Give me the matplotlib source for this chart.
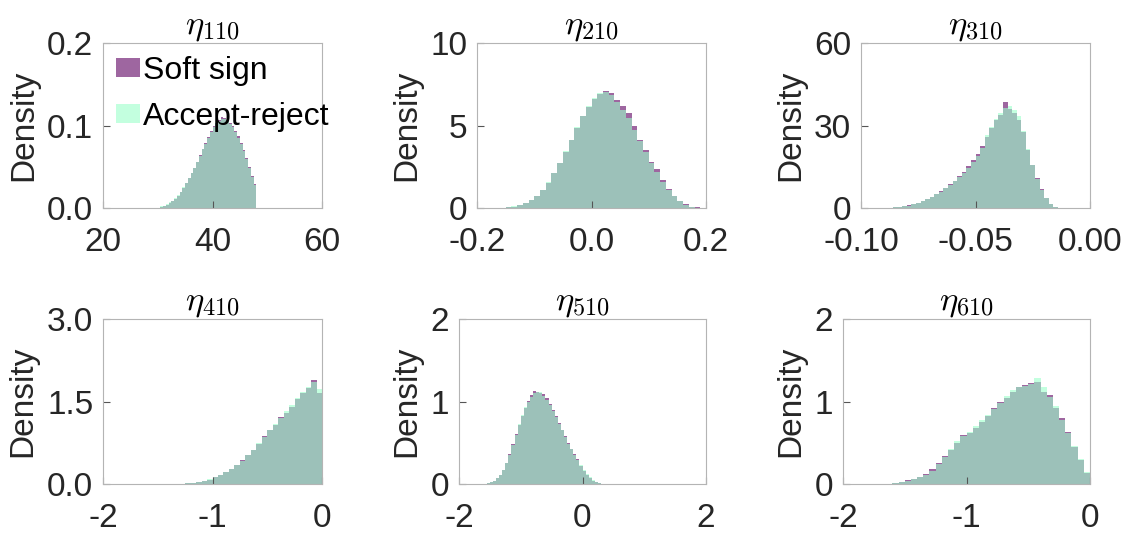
import numpy as np
import matplotlib
matplotlib.use("Agg")
import matplotlib.pyplot as plt

plt.rcParams['font.family'] = ['Liberation Sans', 'DejaVu Sans']
plt.rcParams['mathtext.fontset'] = 'cm'
plt.rcParams['axes.unicode_minus'] = False

# ---- data (densities per bin) ----
titles = [r'$\eta_{110}$', r'$\eta_{210}$', r'$\eta_{310}$',
          r'$\eta_{410}$', r'$\eta_{510}$', r'$\eta_{610}$']

# panel 1
start1, width1 = 30.5, 0.5
accept1 = [0.002, 0.003, 0.005, 0.007, 0.009, 0.012, 0.016, 0.020, 0.025, 0.030,
           0.036, 0.042, 0.049, 0.056, 0.063, 0.071, 0.078, 0.085, 0.092, 0.098,
           0.103, 0.106, 0.108, 0.108, 0.105, 0.102, 0.098, 0.092, 0.085, 0.078,
           0.069, 0.060, 0.049, 0.038, 0.028]
soft1 = [0.001, 0.002, 0.004, 0.006, 0.008, 0.011, 0.015, 0.019, 0.024, 0.030,
         0.036, 0.043, 0.049, 0.056, 0.064, 0.071, 0.079, 0.086, 0.093, 0.099,
         0.103, 0.107, 0.110, 0.109, 0.106, 0.103, 0.099, 0.093, 0.087, 0.079,
         0.070, 0.061, 0.050, 0.039, 0.029]

# panel 2
start2, width2 = -0.16, 0.01
accept2 = [0.02, 0.05, 0.10, 0.18, 0.30, 0.48, 0.75, 1.10, 1.55, 2.10,
           2.75, 3.45, 4.15, 4.90, 5.60, 6.20, 6.65, 6.95, 7.05, 6.85,
           6.40, 5.95, 5.45, 4.75, 4.05, 3.40, 2.75, 2.20, 1.60, 1.10,
           0.70, 0.40, 0.20, 0.08, 0.03]
soft2 = [0.03, 0.05, 0.09, 0.18, 0.32, 0.47, 0.73, 1.08, 1.52, 2.12,
         2.70, 3.40, 4.10, 4.85, 5.55, 6.15, 6.62, 6.93, 7.10, 7.00,
         6.55, 6.20, 5.75, 4.95, 4.15, 3.50, 2.80, 2.35, 1.70, 1.15,
         0.75, 0.42, 0.22, 0.09, 0.04]

# panel 3
start3, width3 = -0.088, 0.002
accept3 = [0.1, 0.2, 0.4, 0.6, 0.9, 1.3, 1.8, 2.4, 3.1, 4.0,
           5.0, 6.0, 7.2, 8.4, 9.7, 11.2, 12.8, 14.6, 16.6, 19.0,
           22.0, 26.5, 29.5, 32.5, 34.5, 36.5, 37.0, 35.5, 33.5, 28.0,
           21.5, 15.5, 10.5, 6.5, 3.5, 1.6, 0.5]
soft3 = [0.1, 0.3, 0.4, 0.7, 1.0, 1.3, 1.9, 2.5, 3.2, 4.1,
         5.1, 6.2, 7.4, 8.6, 10.0, 11.5, 13.2, 15.1, 17.4, 19.8,
         22.5, 26.0, 29.0, 32.0, 34.0, 38.5, 36.0, 34.5, 32.0, 27.5,
         21.0, 15.5, 10.8, 6.8, 3.6, 1.5, 0.5]

# panel 4
start4, width4 = -1.25, 0.05
accept4 = [0.01, 0.02, 0.04, 0.06, 0.09, 0.12, 0.16, 0.21, 0.27, 0.34,
           0.42, 0.52, 0.62, 0.74, 0.86, 0.98, 1.09, 1.20, 1.32, 1.44,
           1.57, 1.68, 1.76, 1.86, 1.72]
soft4 = [0.01, 0.02, 0.03, 0.06, 0.08, 0.12, 0.17, 0.22, 0.28, 0.35,
         0.43, 0.52, 0.61, 0.73, 0.87, 0.99, 1.08, 1.22, 1.30, 1.40,
         1.55, 1.66, 1.74, 1.90, 1.66]

# panel 5
start5, width5 = -1.55, 0.05
accept5 = [0.01, 0.02, 0.04, 0.07, 0.11, 0.17, 0.25, 0.35, 0.47, 0.60,
           0.73, 0.84, 0.93, 1.00, 1.06, 1.10, 1.12, 1.11, 1.07, 1.02,
           0.96, 0.89, 0.81, 0.73, 0.65, 0.57, 0.49, 0.42, 0.35, 0.29,
           0.23, 0.17, 0.12, 0.08, 0.05, 0.02, 0.01]
soft5 = [0.01, 0.02, 0.04, 0.07, 0.11, 0.17, 0.26, 0.36, 0.48, 0.61,
         0.72, 0.83, 0.92, 1.01, 1.08, 1.13, 1.11, 1.10, 1.09, 1.04,
         0.97, 0.90, 0.82, 0.74, 0.66, 0.58, 0.50, 0.43, 0.36, 0.30,
         0.22, 0.16, 0.11, 0.07, 0.04, 0.02, 0.01]

# panel 6
start6, width6 = -1.6, 0.05
accept6 = [0.01, 0.02, 0.04, 0.06, 0.08, 0.11, 0.16, 0.24, 0.33, 0.43,
           0.52, 0.58, 0.63, 0.70, 0.77, 0.84, 0.91, 0.98, 1.07, 1.14,
           1.18, 1.19, 1.21, 1.28, 1.18, 1.05, 0.94, 0.78, 0.62, 0.46,
           0.30, 0.14]
soft6 = [0.01, 0.02, 0.05, 0.06, 0.09, 0.12, 0.18, 0.26, 0.34, 0.41,
         0.50, 0.59, 0.62, 0.68, 0.75, 0.83, 0.92, 1.00, 1.04, 1.12,
         1.17, 1.20, 1.22, 1.24, 1.12, 1.08, 0.92, 0.80, 0.63, 0.45,
         0.29, 0.13]

xlims = [(20, 60), (-0.2, 0.2), (-0.1, 0.0), (-2, 0), (-2, 2), (-2, 0)]
xticks = [[20, 40, 60], [-0.2, 0.0, 0.2], [-0.1, -0.05, 0.0],
          [-2, -1, 0], [-2, 0, 2], [-2, -1, 0]]
xticklabels = [['20', '40', '60'], ['-0.2', '0.0', '0.2'], ['-0.10', '-0.05', '0.00'],
               ['-2', '-1', '0'], ['-2', '0', '2'], ['-2', '-1', '0']]
ylims = [(0, 0.2), (0, 10), (0, 60), (0, 3), (0, 2), (0, 2)]
yticks = [[0, 0.1, 0.2], [0, 5, 10], [0, 30, 60], [0, 1.5, 3], [0, 1, 2], [0, 1, 2]]
yticklabels = [['0.0', '0.1', '0.2'], ['0', '5', '10'], ['0', '30', '60'],
               ['0.0', '1.5', '3.0'], ['0', '1', '2'], ['0', '1', '2']]

starts = [start1, start2, start3, start4, start5, start6]
widths = [width1, width2, width3, width4, width5, width6]
accepts = [accept1, accept2, accept3, accept4, accept5, accept6]
softs = [soft1, soft2, soft3, soft4, soft5, soft6]

soft_color = (93/255, 0/255, 97/255)
accept_color = (155/255, 1.0, 203/255)

W, H = 1128, 533
fig = plt.figure(figsize=(W/100, H/100), dpi=100)

# axes boxes in pixels: left, right, top, bottom
boxes = [(103, 322, 43, 208), (477, 706, 43, 208), (861, 1090, 43, 208),
         (103, 322, 319, 484), (459, 706, 319, 484), (843, 1090, 319, 484)]

for i in range(6):
    l, r, t, b = boxes[i]
    ax = fig.add_axes([l/W, 1 - b/H, (r - l)/W, (b - t)/H])
    edges = starts[i] + widths[i]*np.arange(len(accepts[i]) + 1)
    ax.stairs(softs[i], edges, fill=True, color=soft_color, alpha=0.6,
              linewidth=0, label='Soft sign')
    ax.stairs(accepts[i], edges, fill=True, color=accept_color, alpha=0.6,
              linewidth=0, label='Accept-reject')
    ax.set_xlim(*xlims[i])
    ax.set_ylim(*ylims[i])
    ax.set_xticks(xticks[i])
    ax.set_xticklabels(xticklabels[i])
    ax.set_yticks(yticks[i])
    ax.set_yticklabels(yticklabels[i])
    ax.tick_params(direction='in', length=5, width=0.8, color='#555555',
                   labelsize=24, labelcolor='#262626')
    ax.tick_params(axis='x', pad=14)
    ax.tick_params(axis='y', pad=7)
    for s in ax.spines.values():
        s.set_color('#b4b4b4')
        s.set_linewidth(0.8)
    ax.set_ylabel('Density', fontsize=24, color='#262626', labelpad=6)
    ax.set_title(titles[i], fontsize=25, pad=7)
    if i == 0:
        ax.legend(loc='upper left', frameon=False, fontsize=23,
                  handlelength=0.75, handleheight=0.5, handletextpad=0.1,
                  labelspacing=0.5, borderaxespad=0.1, borderpad=0.3)

fig.savefig('out.png', dpi=100)
